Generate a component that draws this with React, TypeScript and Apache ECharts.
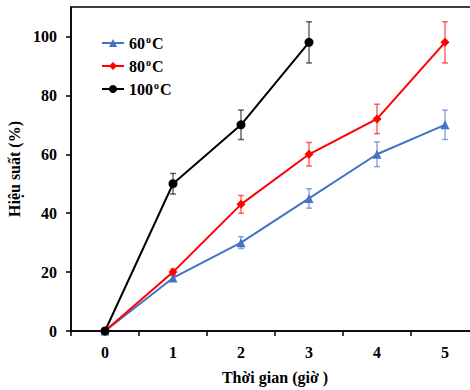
import React, { useEffect, useRef } from "react";
import * as echarts from "echarts";

const hours = ["0", "1", "2", "3", "4", "5"];
const yTicks = [0, 20, 40, 60, 80, 100];
const legendNames = ["60", "80", "100"];

const y60 = [0, 18, 30, 45, 60, 70];
const e60 = [0, 1, 2, 3.3, 4.2, 5];
const y80 = [0, 20, 43, 60, 72, 98];
const e80 = [0, 1, 3, 4, 5, 7];
const y100 = [0, 50, 70, 98];
const e100 = [0, 3.5, 5, 7];

const FONT = "Liberation Serif";

function errSeries(name: string, ys: number[], es: number[], color: string) {
  return {
    type: "custom",
    name: name + "-err",
    silent: true,
    z: 1,
    encode: { x: 0, y: 1 },
    data: ys.map((v, i) => [i, v, es[i]]),
    renderItem: (params: any, api: any) => {
      const x = api.value(0);
      const y = api.value(1);
      const e = api.value(2);
      if (!e) return null;
      const top = api.coord([x, y + e]);
      const bot = api.coord([x, y - e]);
      const w = 3;
      const style = { stroke: color, lineWidth: 1.5, opacity: 0.6 };
      return {
        type: "group",
        children: [
          { type: "line", shape: { x1: top[0], y1: top[1], x2: bot[0], y2: bot[1] }, style },
          { type: "line", shape: { x1: top[0] - w, y1: top[1], x2: top[0] + w, y2: top[1] }, style },
          { type: "line", shape: { x1: bot[0] - w, y1: bot[1], x2: bot[0] + w, y2: bot[1] }, style },
        ],
      };
    },
  };
}

export default function App() {
  const ref = useRef<HTMLDivElement>(null);
  useEffect(() => {
    const chart = echarts.init(ref.current!, undefined, { renderer: "svg" });
    const C60 = "#4472C4";
    const C80 = "#FF0000";
    const C100 = "#000000";
    chart.setOption({
      animation: false,
      grid: {
        left: 71,
        top: 7,
        right: -9,
        bottom: 59,
        show: true,
        borderColor: "#000",
        borderWidth: 1.5,
        containLabel: false,
        outerBoundsMode: "none",
      },
      legend: {
        orient: "vertical",
        left: 96,
        top: 29,
        itemWidth: 22,
        itemHeight: 10,
        itemGap: 6,
        data: legendNames,
        formatter: (n: string) => `{a|${n}}{s|o}{a|C}`,
        textStyle: {
          rich: {
            a: { fontFamily: FONT, fontWeight: "bold", fontSize: 16, color: "#000", lineHeight: 18 },
            s: { fontFamily: FONT, fontWeight: "bold", fontSize: 10, color: "#000", verticalAlign: "top", lineHeight: 18, padding: [0, 1, 6, 1] },
          },
        },
      },
      xAxis: {
        type: "category",
        data: hours,
        boundaryGap: true,
        name: "Thời gian (giờ )",
        nameLocation: "middle",
        nameGap: 38,
        nameTextStyle: { fontFamily: FONT, fontWeight: "bold", fontSize: 16, color: "#000" },
        axisLine: { lineStyle: { color: "#000", width: 1.5 } },
        axisTick: { show: true, length: 5, lineStyle: { color: "#000", width: 1.5 } },
        axisLabel: { fontFamily: FONT, fontWeight: "bold", fontSize: 16, color: "#000", margin: 13 },
        splitLine: { show: false },
      },
      yAxis: {
        type: "value",
        min: 0,
        max: 110,
        interval: 20,
        name: "Hiệu suất (%)",
        nameLocation: "middle",
        nameGap: 48,
        nameTextStyle: { fontFamily: FONT, fontWeight: "bold", fontSize: 16, color: "#000" },
        axisLine: { show: true, lineStyle: { color: "#000", width: 1.5 } },
        axisTick: { show: true, length: 5, customValues: yTicks, lineStyle: { color: "#000", width: 1.5 } },
        axisLabel: { customValues: yTicks, fontFamily: FONT, fontWeight: "bold", fontSize: 16, color: "#000", margin: 14 },
        splitLine: { show: false },
      },
      series: [
        errSeries("60", y60, e60, C60),
        errSeries("80", y80, e80, C80),
        errSeries("100", y100, e100, C100),
        {
          type: "line",
          name: "60",
          data: y60,
          symbol: "triangle",
          symbolSize: 9,
          z: 3,
          lineStyle: { color: C60, width: 2 },
          itemStyle: { color: C60 },
        },
        {
          type: "line",
          name: "80",
          data: y80,
          symbol: "diamond",
          symbolSize: 9,
          z: 4,
          lineStyle: { color: C80, width: 2 },
          itemStyle: { color: C80 },
        },
        {
          type: "line",
          name: "100",
          data: y100,
          symbol: "circle",
          symbolSize: 9,
          z: 5,
          lineStyle: { color: C100, width: 2 },
          itemStyle: { color: C100 },
        },
      ],
    });
    return () => chart.dispose();
  }, []);
  return (
    <div
      ref={ref}
      style={{ position: "fixed", left: 0, top: 0, width: 470, height: 390, background: "#fff" }}
    />
  );
}
